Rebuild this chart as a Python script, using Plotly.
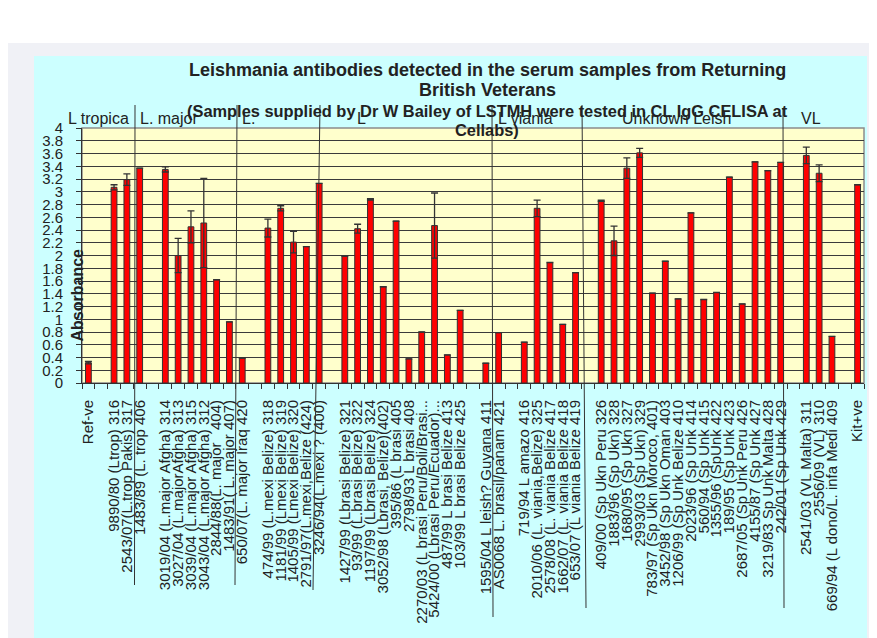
import plotly.graph_objects as go

# ---------------- data ----------------
categories = [
    "Ref-ve", " ",
    "9890/80 (Ltrop) 316", "2543/07(L.trop Pakis) 317", "1483/89 (L. trop 406", "  ",
    "3019/04 (L.major Afgha) 314", "3027/04 (L.majorAfgha) 313", "3039/04 (L.major Afgha) 315",
    "3043/04 (L.major Afgha) 312", "2844/88(L. major   404)", "1483/91( L. major 407)",
    "650/07(L. major Iraq 420", "   ",
    "474/99 (L.mexi Belize) 318", "1181/99 (Lmexi Belize) 319", "1405/99 (Lmexi Belize) 320",
    "2791/97(L.mexi,Belize (424)", "3246/94(L.mexi ? (400)", "    ",
    "1427/99 (Lbrasi Belize) 321", "93/99 (L.brasi Belize) 322", "1197/99 (Lbrasi Belize) 324",
    "3052/98 (Lbrasi, Belize)(402)", "395/86 (L brasi 405", "2798/93 L brasi 408",
    "2270/03 (L brasi Peru/Boli/Brasi...", "5424/00 (Lbrasi Peru/Ecuador)...",
    "487/99 L brasi Belize 413", "103/99 L brasi Belize 425", "     ",
    "1595/04 L leish? Guyana 411", "AS0068 L. brasil/panam 421", "      ",
    "719/94 L amazo 416", "2010/06 (L. viania,Belize) 325", "2578/08 (L. viania Belize 417",
    "1662/07 (L. viania Belize 418", "653/07 (L viania Belize 419", "       ",
    "409/00 (Sp Ukn Peru 326", "1883/96 (Sp Ukn) 328", "1680/95 (Sp Ukn 327",
    "2993/03 (Sp Ukn) 329", "783/97 (Sp Ukn Moroco, 401)", "3452/98 (Sp Ukn Oman 403",
    "1206/99 (Sp Unk Belize 410", "2023/96 (Sp Unk 414", "560/94 (Sp Unk 415",
    "1355/96 (SpUnk 422", "189/95 (Sp Unk 423", "2687/05 (Sp Unk Peru 426",
    "4155/87 (Sp Unk 427", "3219/83 Sp Unk Malta 428", "242/01 (Sp Unk 429", "        ",
    "2541/03 (VL Malta) 311", "2556/09 (VL) 310", "669/94 (L dono/L. infa Medi 409", "         ",
    "Kit+ve",
]

absorbance = [
    0.32, None,
    3.07, 3.19, 3.37, None,
    3.35, 2.00, 2.45, 2.51, 1.62, 0.96, 0.39, None,
    2.43, 2.74, 2.21, 2.14, 3.13, None,
    1.99, 2.42, 2.88, 1.51, 2.54, 0.38, 0.80, 2.47, 0.44, 1.14, None,
    0.31, 0.79, None,
    0.64, 2.74, 1.89, 0.92, 1.73, None,
    2.86, 2.23, 3.37, 3.61, 1.41, 1.91, 1.32, 2.67, 1.31, 1.42, 3.23, 1.24, 3.47, 3.33, 3.46, None,
    3.57, 3.29, 0.73, None,
    3.11,
]

error = [
    0.02, None,
    0.04, 0.09, None, None,
    0.04, 0.27, 0.25, 0.70, None, None, None, None,
    0.14, 0.04, 0.17, None, None, None,
    None, 0.07, 0.01, None, None, None, None, 0.51, None, None, None,
    None, None, None,
    None, 0.13, None, None, None, None,
    0.01, 0.23, 0.16, 0.07, None, None, None, None, None, None, None, None, None, None, None, None,
    0.13, 0.13, None, None,
    None,
]

group_labels = ["L tropica", "L. major", "L.", "L", "L viania", "Unknown Leish", "VL"]

title_lines = [
    "Leishmania antibodies detected in the serum samples from Returning",
    "British Veterans",
]
subtitle_lines = [
    "(Samples supplied by Dr W Bailey of LSTMH were tested in CL IgG CELISA at",
    "Cellabs)",
]

# ---------------- layout geometry ----------------
OFF = 8  # page body margin; figure is placed 8px right/down in the window
W, H = 877 - OFF, 638 - OFF
L, R, T, B = 82 - OFF, 13, 128 - OFF, 638 - 383
PW, PH = W - L - R, H - T - B


def px(x):
    """reference window x pixel -> paper x"""
    return (x - OFF - L) / PW


def py(y):
    """reference window y pixel -> paper y"""
    return (H - B - (y - OFF)) / PH


FONT = "Liberation Sans, Arial, sans-serif"

fig = go.Figure()
fig.add_trace(go.Bar(
    x=categories, y=absorbance,
    marker=dict(color="#FF0000", line=dict(color="#333333", width=1)),
    error_y=dict(type="data", array=error, visible=True,
                 color="#333333", thickness=1.3, width=3.5),
    width=0.45,
    hoverinfo="x+y",
))

shapes = []
# white band at top of page
shapes.append(dict(type="rect", xref="paper", yref="paper", layer="below",
                   x0=px(0), x1=px(877), y0=py(0), y1=py(43),
                   fillcolor="#FFFFFF", line=dict(width=0)))
# cyan chart area
shapes.append(dict(type="rect", xref="paper", yref="paper", layer="below",
                   x0=px(34), x1=px(867), y0=py(56), y1=py(645),
                   fillcolor="#CCFFFF", line=dict(width=0)))
# yellow plot area with grey border
shapes.append(dict(type="rect", xref="paper", yref="paper", layer="below",
                   x0=0, x1=1, y0=0, y1=1,
                   fillcolor="#FFFFCC", line=dict(color="#8C8C8C", width=1.5)))

# group separator lines (x_top, y_top, x_bottom, y_bottom) in reference pixels
separators = [
    (135, 105, 134.5, 585),
    (237, 105, 235, 585),
    (320, 105, 313, 590),
    (492, 105, 493, 617),
    (582, 105, 586, 608),
    (783, 108, 784, 608),
]
for xt, yt, xb, yb in separators:
    shapes.append(dict(type="line", xref="paper", yref="paper", layer="above",
                       x0=px(xt), y0=py(yt), x1=px(xb), y1=py(yb),
                       line=dict(color="#333333", width=1)))

annotations = []
group_x = [98.5, 168.5, 248, 361, 525.7, 676.7, 810.5]
for lab, gx in zip(group_labels, group_x):
    annotations.append(dict(text=lab, xref="paper", yref="paper", x=px(gx), y=py(119),
                            xanchor="center", yanchor="middle", showarrow=False,
                            font=dict(family=FONT, size=16, color="#222222")))

for txt, yy in zip(title_lines, [70, 90]):
    annotations.append(dict(text="<b>%s</b>" % txt, xref="paper", yref="paper",
                            x=px(487), y=py(yy), xanchor="center", yanchor="middle",
                            showarrow=False,
                            font=dict(family=FONT, size=18, color="#222222")))
for txt, yy in zip(subtitle_lines, [111, 130]):
    annotations.append(dict(text="<b>%s</b>" % txt, xref="paper", yref="paper",
                            x=px(487), y=py(yy), xanchor="center", yanchor="middle",
                            showarrow=False,
                            font=dict(family=FONT, size=16.4, color="#222222")))

annotations.append(dict(text="<b>Absorbance</b>", xref="paper", yref="paper",
                        x=px(76.5), y=py(295), xanchor="center", yanchor="middle",
                        textangle=-90, showarrow=False,
                        font=dict(family=FONT, size=16, color="#222222")))

fig.update_layout(
    width=W, height=H,
    margin=dict(l=L, r=R, t=T, b=B, pad=0),
    paper_bgcolor="#F0F1F6",
    plot_bgcolor="rgba(0,0,0,0)",
    showlegend=False,
    bargap=0.55,
    shapes=shapes,
    annotations=annotations,
    font=dict(family=FONT, color="#222222"),
)

fig.update_xaxes(
    type="category", categoryorder="array", categoryarray=categories,
    tickmode="linear", dtick=1, tick0=0,
    tickson="boundaries", ticks="outside", ticklen=5, tickcolor="#333333",
    tickangle=-90, tickfont=dict(family=FONT, size=15, color="#222222"),
    showline=True, linecolor="#333333", linewidth=1,
    showgrid=False, ticklabelstandoff=10,
)
fig.update_yaxes(
    range=[0, 4], dtick=0.2, tick0=0,
    ticks="outside", ticklen=5, tickcolor="#333333",
    tickfont=dict(family=FONT, size=15, color="#222222"),
    showline=True, linecolor="#333333", linewidth=1,
    showgrid=True, gridcolor="#3A3A3A", gridwidth=1,
    zeroline=False, ticklabelstandoff=10,
)

fig.write_html("out.html")
